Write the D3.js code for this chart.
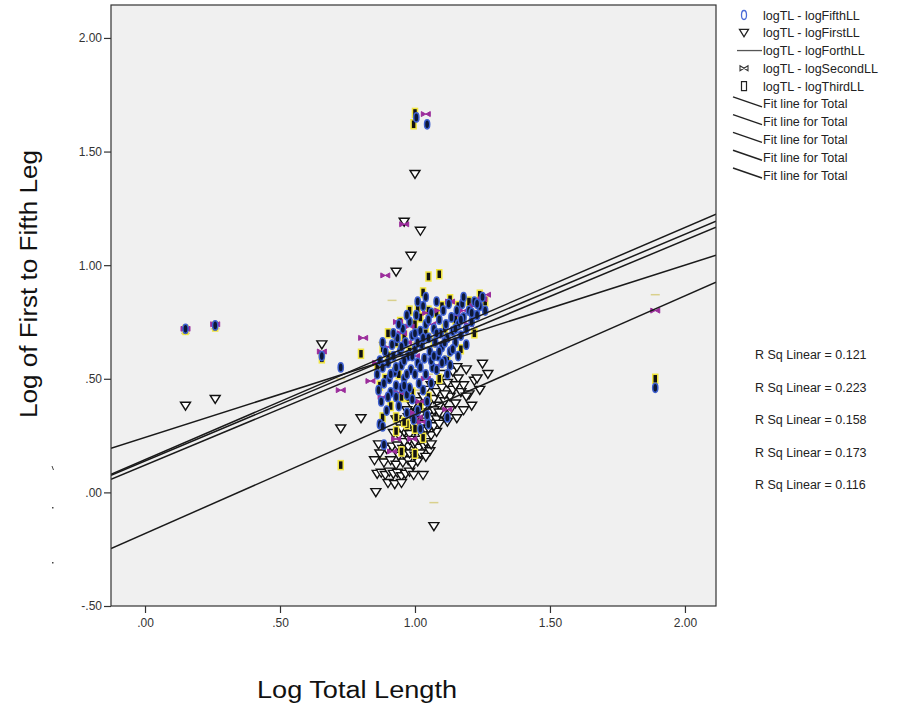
<!DOCTYPE html>
<html>
<head>
<meta charset="utf-8">
<script src="https://cdn.jsdelivr.net/npm/d3@7"></script>
<style>
  body { margin: 0; background: #fff; }
  text { font-family: "Liberation Sans", Arial, sans-serif; }
</style>
</head>
<body>
<div id="chart"></div>
<script>
// Series values: [log total length, log leg length]
var fifthLL = [
  [0.15,0.72],[0.26,0.735],[0.655,0.60],[0.725,0.55],[1.89,0.46],[1.005,1.65],[1.045,1.62],
  [0.86,0.52],[0.865,0.45],[0.87,0.58],[0.875,0.40],[0.88,0.55],[0.885,0.48],[0.89,0.62],[0.895,0.36],
  [0.90,0.57],[0.905,0.50],[0.91,0.44],[0.915,0.65],[0.92,0.60],[0.925,0.53],[0.93,0.47],[0.935,0.68],
  [0.94,0.38],[0.945,0.62],[0.95,0.56],[0.955,0.72],[0.96,0.50],[0.965,0.66],[0.97,0.43],[0.975,0.60],
  [0.98,0.75],[0.985,0.54],[0.99,0.69],[0.995,0.32],[1.00,0.63],[1.005,0.78],[1.01,0.57],[1.015,0.48],
  [1.02,0.71],[1.025,0.65],[1.03,0.82],[1.035,0.59],[1.04,0.74],[1.045,0.40],[1.05,0.68],[1.055,0.62],
  [1.06,0.79],[1.065,0.55],[1.07,0.72],[1.075,0.66],[1.08,0.84],[1.085,0.60],[1.09,0.76],[1.095,0.70],
  [1.10,0.64],[1.105,0.80],[1.11,0.58],[1.115,0.74],[1.12,0.68],[1.125,0.83],[1.13,0.62],[1.135,0.77],
  [1.14,0.71],[1.15,0.66],[1.155,0.80],[1.16,0.74],[1.17,0.69],[1.175,0.83],[1.18,0.77],[1.19,0.72],
  [1.20,0.80],[1.21,0.75],[1.22,0.84],[1.23,0.78],[1.24,0.82],[1.25,0.86],[1.26,0.80],
  [0.90,0.42],[0.93,0.55],[0.96,0.58],[0.98,0.46],[1.00,0.52],[1.00,0.70],[1.02,0.55],[1.03,0.45],
  [1.04,0.52],[1.06,0.48],[1.08,0.54],[1.10,0.57],[1.12,0.52],[0.97,0.35],[0.99,0.41],[1.01,0.36],
  [1.05,0.30],[1.02,0.28],[0.95,0.46],[0.92,0.70],[0.94,0.74],[0.97,0.78],[1.01,0.84],[1.04,0.86],
  [0.88,0.66],[0.87,0.30],[1.13,0.56],[1.16,0.60],[1.19,0.65],[1.06,0.58],[1.09,0.62],[1.15,0.72],
  [1.18,0.86],[1.12,0.33],[0.88,0.29],[0.885,0.21],[1.045,0.34],
  [0.91,0.52],[0.95,0.64],[0.99,0.60],[1.03,0.68],[1.07,0.60],[1.11,0.66],[1.14,0.63],[1.17,0.76],
  [1.21,0.79],[1.23,0.83],[0.97,0.52],[1.01,0.66],[1.05,0.76],[1.08,0.70],[0.93,0.42],[0.96,0.47]
];

var firstLL = [
  [0.15,0.38],[0.26,0.41],[0.655,0.65],[0.725,0.28],[1.00,1.40],[0.96,1.19],[1.02,1.15],[0.985,1.04],
  [0.93,0.97],[0.855,0.0],[1.07,-0.15],[1.03,0.075],[0.80,0.325],[1.155,0.325],
  [0.86,0.08],[0.875,0.085],[0.89,0.075],[0.905,0.09],[0.92,0.08],[0.935,0.085],[0.95,0.07],[0.965,0.08],
  [0.98,0.09],[0.995,0.075],[0.90,0.04],[0.925,0.035],[0.95,0.04],[0.885,0.13],[0.91,0.14],[0.93,0.12],
  [0.955,0.13],[0.975,0.14],[0.99,0.12],[1.01,0.135],
  [0.895,0.19],[0.915,0.20],[0.935,0.205],[0.955,0.19],[0.975,0.20],[0.995,0.21],[1.015,0.195],[1.035,0.20],[1.055,0.18],
  [0.92,0.26],[0.94,0.25],[0.96,0.265],[0.98,0.255],[1.00,0.27],[1.02,0.26],[1.04,0.275],[1.06,0.25],[1.08,0.265],
  [0.93,0.32],[0.955,0.31],[0.975,0.33],[1.00,0.32],[1.02,0.34],[1.04,0.31],[1.06,0.33],[1.08,0.32],[1.10,0.345],[1.12,0.31],
  [0.99,0.38],[1.01,0.40],[1.03,0.37],[1.05,0.39],[1.07,0.41],[1.09,0.38],[1.11,0.40],[1.13,0.42],[1.15,0.39],[1.17,0.44],
  [1.04,0.45],[1.06,0.47],[1.08,0.44],[1.10,0.46],[1.12,0.48],[1.14,0.45],[1.16,0.50],[1.18,0.47],[1.20,0.43],[1.22,0.49],
  [1.10,0.52],[1.14,0.53],[1.155,0.55],[1.19,0.54],[1.23,0.50],[1.25,0.565],[1.27,0.52],[1.24,0.45],[1.21,0.38],[1.18,0.36],
  [0.865,0.21],[0.87,0.17],[0.85,0.14],
  [0.95,0.28],[0.97,0.29],[0.99,0.30],[1.01,0.29],[1.03,0.30],[1.05,0.28],[0.96,0.22],[0.98,0.23],
  [1.00,0.22],[1.02,0.23],[1.04,0.22],[1.06,0.21],[0.94,0.16],[0.96,0.165],[0.98,0.17],[1.00,0.16],
  [1.02,0.17],[1.04,0.155],[0.97,0.36],[1.01,0.35],[1.05,0.35],[1.07,0.36],[1.09,0.35],[1.11,0.43],
  [1.13,0.36],[1.15,0.47],[1.19,0.42],[1.03,0.42],[1.07,0.29],[1.09,0.30]
];

var forthLL = [
  [0.15,0.70],[0.26,0.72],[0.655,0.61],[0.725,0.50],[0.90,0.55],[0.93,0.60],[0.97,0.62],[1.00,0.66],
  [1.03,0.64],[1.06,0.70],[1.10,0.72],[1.14,0.75],[1.18,0.78],[1.22,0.80],[0.95,0.50],[0.99,0.55],
  [1.04,0.58],[1.08,0.62],[1.00,1.64],[0.92,0.45],[0.96,0.40],[1.01,0.45],[1.05,0.52],
  [0.915,0.845],[1.07,-0.045],[1.89,0.87],[0.88,0.15],[0.88,0.66],[0.955,0.67]
];

var secondLL = [
  [0.15,0.72],[0.26,0.74],[0.655,0.62],[0.725,0.45],[1.89,0.80],[1.04,1.665],[0.96,1.18],[0.89,0.955],
  [0.808,0.68],[0.937,0.75],[0.952,0.70],[0.98,0.73],[1.045,0.79],[1.263,0.87],[1.13,0.84],
  [1.02,0.40],[1.00,0.35],[1.025,0.31],[0.93,0.235],[0.99,0.235],[0.915,0.18],[1.12,0.365],[0.835,0.49],[1.01,0.33],
  [0.86,0.57],[0.90,0.64],[0.97,0.66],[1.00,0.60],[1.06,0.74],[1.09,0.80],[1.15,0.78],[1.18,0.80],
  [1.22,0.82],[1.25,0.85],[1.20,0.74],[0.88,0.42],[0.94,0.44],[1.04,0.50],[1.08,0.56]
];

var thirdLL = [
  [0.15,0.715],[0.26,0.73],[0.655,0.59],[0.725,0.12],[1.89,0.50],[1.00,1.67],[0.995,1.62],[1.09,0.96],
  [0.80,0.61],[0.88,0.635],[0.945,0.75],[1.01,0.81],[1.03,0.88],[1.05,0.95],[0.86,0.55],[0.87,0.47],
  [0.90,0.70],[0.93,0.66],[0.96,0.69],[0.98,0.80],[1.00,0.74],[1.02,0.77],[1.05,0.80],[1.08,0.79],
  [1.10,0.82],[1.13,0.85],[1.16,0.82],[1.20,0.84],[1.24,0.87],[1.26,0.84],[0.91,0.38],[0.95,0.42],
  [0.99,0.44],[1.02,0.38],[1.05,0.42],[1.09,0.50],[1.12,0.58],[1.17,0.63],[1.22,0.70],[0.97,0.30],
  [1.00,0.28],[1.03,0.24],[0.93,0.27],[0.95,0.18],[1.00,0.17],[0.94,0.52],[1.07,0.66],[1.15,0.76],
  [0.90,0.60],[0.89,0.50],[0.98,0.62],[1.04,0.70],[1.11,0.72],[0.97,0.46],[0.975,0.42],[0.88,0.33],
  [0.93,0.33],[0.96,0.31]
];

// Fit lines (intercept, slope) and R squared labels
var fitIntercept = [0.242, 0.144, 0.138, 0.120, -0.181];
var fitSlope = [0.379, 0.511, 0.499, 0.495, 0.523];
var rSquared = ["0.121", "0.223", "0.158", "0.173", "0.116"];

var xTicks = [0, 0.5, 1, 1.5, 2];
var yTicks = [-0.5, 0, 0.5, 1, 1.5, 2];

var legendLabels = ["logTL - logFifthLL", "logTL - logFirstLL", "logTL - logForthLL",
  "logTL - logSecondLL", "logTL - logThirdLL", "Fit line for Total", "Fit line for Total",
  "Fit line for Total", "Fit line for Total", "Fit line for Total"];

// Chart dimensions
var width = 904, height = 709;
var plot = { left: 111, right: 716, top: 5, bottom: 606 };

var svg = d3.select("#chart")
  .append("svg")
  .attr("width", width)
  .attr("height", height);

var xScale = d3.scaleLinear()
  .domain([-0.126, 2.115])
  .range([plot.left, plot.right]);

var yScale = d3.scaleLinear()
  .domain([-0.5, 2.145])
  .range([plot.bottom, plot.top]);

// SPSS-style tick labels: .50, 1.00, -.50
function spssFormat(d) {
  return (d < 0 ? "-" : "") + Math.abs(d).toFixed(2).replace(/^0\./, ".");
}

// Plot background
svg.append("rect")
  .attr("x", plot.left)
  .attr("y", plot.top)
  .attr("width", plot.right - plot.left)
  .attr("height", plot.bottom - plot.top)
  .attr("fill", "#f0f0f0");

svg.append("clipPath")
  .attr("id", "clip")
  .append("rect")
  .attr("x", plot.left)
  .attr("y", plot.top)
  .attr("width", plot.right - plot.left)
  .attr("height", plot.bottom - plot.top);

var g = svg.append("g").attr("clip-path", "url(#clip)");

// Forth: khaki dash
g.selectAll(".forth")
  .data(forthLL)
  .enter()
  .append("line")
  .attr("class", "forth")
  .attr("x1", function(d) { return xScale(d[0]) - 4.5; })
  .attr("x2", function(d) { return xScale(d[0]) + 4.5; })
  .attr("y1", function(d) { return yScale(d[1]); })
  .attr("y2", function(d) { return yScale(d[1]); })
  .attr("stroke", "#d9d08c")
  .attr("stroke-width", 1.5);

// First: open triangle
g.selectAll(".first")
  .data(firstLL)
  .enter()
  .append("path")
  .attr("class", "first")
  .attr("transform", function(d) { return "translate(" + xScale(d[0]) + "," + yScale(d[1]) + ")"; })
  .attr("d", "M-5,-3.8L5,-3.8L0,4.2Z")
  .attr("fill", "#ffffff")
  .attr("stroke", "#111")
  .attr("stroke-width", 1.4);

// Third: yellow outlined rectangle
g.selectAll(".third")
  .data(thirdLL)
  .enter()
  .append("rect")
  .attr("class", "third")
  .attr("x", function(d) { return xScale(d[0]) - 2.5; })
  .attr("y", function(d) { return yScale(d[1]) - 4.5; })
  .attr("width", 5)
  .attr("height", 9)
  .attr("fill", "#111")
  .attr("stroke", "#f2e640")
  .attr("stroke-width", 1.5);

// Second: purple bowtie
g.selectAll(".second")
  .data(secondLL)
  .enter()
  .append("path")
  .attr("class", "second")
  .attr("transform", function(d) { return "translate(" + xScale(d[0]) + "," + yScale(d[1]) + ")"; })
  .attr("d", "M-4.5,-2.5L4.5,2.5L4.5,-2.5L-4.5,2.5Z")
  .attr("fill", "#9b2c9b")
  .attr("stroke", "#9b2c9b")
  .attr("stroke-width", 1);

// Fifth: blue ellipse
g.selectAll(".fifth")
  .data(fifthLL)
  .enter()
  .append("ellipse")
  .attr("class", "fifth")
  .attr("cx", function(d) { return xScale(d[0]); })
  .attr("cy", function(d) { return yScale(d[1]); })
  .attr("rx", 2.6)
  .attr("ry", 4.6)
  .attr("fill", "#0d1836")
  .attr("stroke", "#3d5fd0")
  .attr("stroke-width", 1.5);

// Fit lines
var xEnds = xScale.domain();
g.selectAll(".fit")
  .data(fitSlope)
  .enter()
  .append("line")
  .attr("class", "fit")
  .attr("x1", xScale(xEnds[0]))
  .attr("x2", xScale(xEnds[1]))
  .attr("y1", function(d, i) { return yScale(fitIntercept[i] + d * xEnds[0]); })
  .attr("y2", function(d, i) { return yScale(fitIntercept[i] + d * xEnds[1]); })
  .attr("stroke", "#1a1a1a")
  .attr("stroke-width", 1.5);

// Frame
svg.append("rect")
  .attr("x", plot.left)
  .attr("y", plot.top)
  .attr("width", plot.right - plot.left)
  .attr("height", plot.bottom - plot.top)
  .attr("fill", "none")
  .attr("stroke", "#333")
  .attr("stroke-width", 1.2);

// Axes
var xAxis = svg.append("g")
  .attr("transform", "translate(0," + plot.bottom + ")")
  .call(d3.axisBottom(xScale).tickValues(xTicks).tickFormat(spssFormat).tickSize(7).tickPadding(5));

var yAxis = svg.append("g")
  .attr("transform", "translate(" + plot.left + ",0)")
  .call(d3.axisLeft(yScale).tickValues(yTicks).tickFormat(spssFormat).tickSize(7).tickPadding(2));

[xAxis, yAxis].forEach(function(ax) {
  ax.select(".domain").remove();
  ax.selectAll("line").attr("stroke", "#333").attr("stroke-width", 1.2);
  ax.selectAll("text")
    .attr("fill", "#333")
    .style("font-size", "12px")
    .style("font-family", "'Liberation Sans', Arial, sans-serif");
});

// Axis titles
svg.append("text")
  .attr("x", 357)
  .attr("y", 698)
  .attr("text-anchor", "middle")
  .attr("textLength", 200)
  .attr("lengthAdjust", "spacingAndGlyphs")
  .style("font-size", "23px")
  .attr("fill", "#111")
  .text("Log Total Length");

svg.append("text")
  .attr("transform", "translate(37,284) rotate(-90)")
  .attr("text-anchor", "middle")
  .attr("textLength", 268)
  .attr("lengthAdjust", "spacingAndGlyphs")
  .style("font-size", "23px")
  .attr("fill", "#111")
  .text("Log of First to Fifth Leg");

// Stray marks at left margin
svg.append("line").attr("x1", 52).attr("y1", 466).attr("x2", 53.5).attr("y2", 470)
  .attr("stroke", "#444").attr("stroke-width", 1);
svg.append("rect").attr("x", 52).attr("y", 507).attr("width", 1.5).attr("height", 1.5).attr("fill", "#444");
svg.append("rect").attr("x", 52).attr("y", 562).attr("width", 1.5).attr("height", 1.5).attr("fill", "#444");

// Legend
var legendY = d3.scaleLinear().domain([0, 9]).range([15, 175]);
var legend = svg.append("g");

legend.selectAll(".legend-label")
  .data(legendLabels)
  .enter()
  .append("text")
  .attr("class", "legend-label")
  .attr("x", 763)
  .attr("y", function(d, i) { return legendY(i) + 4.5; })
  .style("font-size", "12.5px")
  .attr("fill", "#222")
  .text(function(d) { return d; });

legend.append("ellipse")
  .attr("cx", 744).attr("cy", legendY(0))
  .attr("rx", 2.5).attr("ry", 4.5)
  .attr("fill", "none").attr("stroke", "#4a6bd8").attr("stroke-width", 1.3);

legend.append("path")
  .attr("transform", "translate(744," + legendY(1) + ")")
  .attr("d", "M-4.5,-3.5L4.5,-3.5L0,4Z")
  .attr("fill", "none").attr("stroke", "#222").attr("stroke-width", 1.3);

legend.append("line")
  .attr("x1", 737).attr("x2", 762)
  .attr("y1", legendY(2)).attr("y2", legendY(2))
  .attr("stroke", "#555").attr("stroke-width", 1.3);

legend.append("path")
  .attr("transform", "translate(744," + legendY(3) + ")")
  .attr("d", "M-4,-2.5L4,2.5L4,-2.5L-4,2.5Z")
  .attr("fill", "none").attr("stroke", "#333").attr("stroke-width", 1.1);

legend.append("rect")
  .attr("x", 741.5).attr("y", legendY(4) - 4.5)
  .attr("width", 5).attr("height", 9)
  .attr("fill", "none").attr("stroke", "#222").attr("stroke-width", 1.2);

legend.selectAll(".legend-fit")
  .data(d3.range(5, 10))
  .enter()
  .append("line")
  .attr("class", "legend-fit")
  .attr("x1", 733)
  .attr("x2", 762)
  .attr("y1", function(d) { return legendY(d) - 7; })
  .attr("y2", function(d) { return legendY(d) + 3; })
  .attr("stroke", "#222")
  .attr("stroke-width", 1.4);

// R squared labels
svg.selectAll(".rsq")
  .data(rSquared)
  .enter()
  .append("text")
  .attr("class", "rsq")
  .attr("x", 755)
  .attr("y", function(d, i) { return 359 + i * 32.5; })
  .style("font-size", "12.5px")
  .attr("fill", "#222")
  .text(function(d) { return "R Sq Linear = " + d; });
</script>
</body>
</html>
